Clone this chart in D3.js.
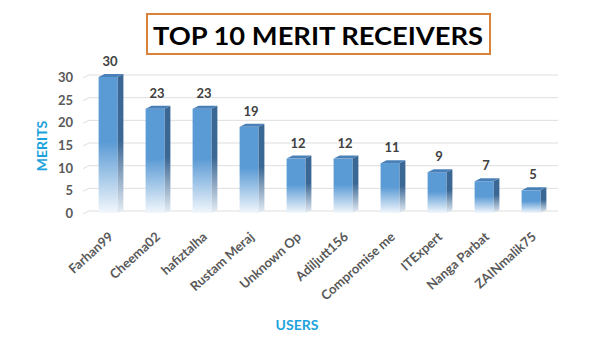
<!DOCTYPE html>
<html><head><meta charset="utf-8">
<script src="https://cdn.jsdelivr.net/npm/d3@7"></script>
<style>body{margin:0;background:#fff}svg{display:block}</style>
</head><body>
<svg id="c" width="592" height="357"></svg>
<script>
const users = ["Farhan99","Cheema02","hafiztalha","Rustam Meraj","Unknown Op","Adiljutt156","Compromise me","ITExpert","Nanga Parbat","ZAINmalik75"];
const merits = [30,23,23,19,12,12,11,9,7,5];
const yTicks = [0,5,10,15,20,25,30];
const title = "TOP 10 MERIT RECEIVERS";
const xTitle = "USERS";
const yTitle = "MERITS";

const svg = d3.select("#c");
const font = "Lato, 'Open Sans', sans-serif";
const x = d3.scaleBand().domain(users).range([84.5,554.5]).paddingInner(0.6).paddingOuter(0.3);
const y = d3.scaleLinear().domain([0,30]).range([213,77]);
const dx = 6, dy = 3;

const defs = svg.append("defs");
function grad(id, c, end){
  const g = defs.append("linearGradient").attr("id",id).attr("x1",0).attr("y1",0).attr("x2",0).attr("y2",1);
  g.append("stop").attr("offset","0").attr("stop-color",c);
  g.append("stop").attr("offset","0.48").attr("stop-color",c);
  g.append("stop").attr("offset","1").attr("stop-color",end);
}
grad("gf","#5b9bd5","#f2f7fc");
grad("gs","#3a6794","#e6edf4");

// title
svg.append("rect").attr("x",147).attr("y",14).attr("width",343).attr("height",40)
  .attr("fill","#fff").attr("stroke","#d9823b").attr("stroke-width",2);
svg.append("text").attr("x",318).attr("y",45).attr("text-anchor","middle")
  .attr("font-family",font).attr("font-weight","bold").attr("font-size",25).attr("fill","#000")
  .attr("textLength",330).attr("lengthAdjust","spacingAndGlyphs").text(title);

// gridlines
const gl = svg.append("g");
yTicks.forEach(t=>{
  gl.append("path").attr("d",`M83,${y(t)+1}L${83+dx},${y(t)-dy+1}L558,${y(t)-dy+1}`)
    .attr("fill","none").attr("stroke","#dedede").attr("stroke-width",1);
});

// y tick labels
svg.append("g").selectAll("text").data(yTicks).join("text")
  .attr("x",73).attr("y",d=>y(d)+5).attr("text-anchor","end")
  .attr("font-family",font).attr("font-weight","bold").attr("font-size",13).attr("fill","#595959")
  .text(d=>d);

// bars
const bars = svg.append("g").selectAll("g").data(users.map((u,i)=>({u,v:merits[i]}))).join("g");
const bw = x.bandwidth();
bars.append("path").attr("fill","url(#gs)")
  .attr("d",d=>{const x0=x(d.u)+bw, yt=y(d.v), yb=y(0);
    return `M${x0},${yt}L${x0+dx},${yt-dy}L${x0+dx},${yb-dy}L${x0},${yb}Z`;});
bars.append("rect").attr("fill","url(#gf)")
  .attr("x",d=>x(d.u)).attr("y",d=>y(d.v)).attr("width",bw).attr("height",d=>y(0)-y(d.v));
bars.append("path").attr("fill","#4a80b8")
  .attr("d",d=>{const x0=x(d.u), yt=y(d.v);
    return `M${x0},${yt}L${x0+dx},${yt-dy}L${x0+bw+dx},${yt-dy}L${x0+bw},${yt}Z`;});
bars.append("text").attr("x",d=>x(d.u)+bw/2+2).attr("y",d=>y(d.v)-11).attr("text-anchor","middle")
  .attr("font-family",font).attr("font-weight","bold").attr("font-size",13).attr("fill","#404040")
  .text(d=>d.v);

// x labels
svg.append("g").selectAll("text").data(users).join("text")
  .attr("transform",d=>`translate(${x(d)+bw/2+6},${238}) rotate(-42)`)
  .attr("text-anchor","end")
  .attr("font-family",font).attr("font-weight","bold").attr("font-size",13).attr("fill","#595959")
  .text(d=>d);

// axis titles
svg.append("text").attr("x",297).attr("y",330).attr("text-anchor","middle")
  .attr("font-family",font).attr("font-weight","bold").attr("font-size",14).attr("fill","#1ca3dd").text(xTitle);
svg.append("text").attr("transform","translate(47,146) rotate(-90)").attr("text-anchor","middle")
  .attr("font-family",font).attr("font-weight","bold").attr("font-size",14).attr("fill","#1ca3dd").text(yTitle);
</script>
</body></html>
